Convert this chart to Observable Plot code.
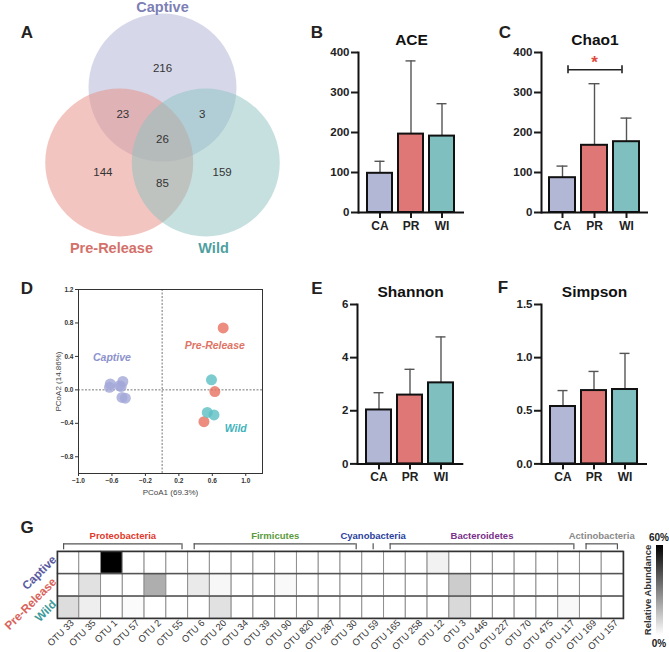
<!DOCTYPE html>
<html><head><meta charset="utf-8">
<script src="https://cdn.jsdelivr.net/npm/d3@7"></script>
<script src="https://cdn.jsdelivr.net/npm/@observablehq/plot@0.6"></script>
<style>
body{margin:0;background:#fff;}
#fig{position:relative;width:669px;height:652px;font-family:'Liberation Sans',Arial,Helvetica,sans-serif;overflow:hidden;background:#fff;}
.lbl{position:absolute;font-weight:bold;color:#222;transform:translate(-50%,-50%);line-height:1;white-space:nowrap;}
</style></head><body><div id="fig"></div><script>
// ---------------- DATA ----------------
// Venn (A)
const vennSets = ["Captive", "Pre-Release", "Wild"];
const vennRegionSets = [["Captive"], ["Pre-Release"], ["Wild"], ["Captive","Pre-Release"], ["Captive","Wild"], ["Pre-Release","Wild"], ["Captive","Pre-Release","Wild"]];
const vennRegionCounts = [216, 144, 159, 23, 3, 85, 26];
const vennColors = ["#aeb2d6", "#e88c82", "#8cc2bf"];
const vennLabelColors = ["#7c80b4", "#d4706a", "#4f9f9f"];

// Alpha diversity (B, C, E, F)
const groups = ["CA", "PR", "WI"];
const barColors = ["#b3b7d6", "#e07777", "#7fbfbf"];
const aceMean = [98, 196, 191];
const aceSD = [30, 183, 81];
const chao1Mean = [87, 168, 177];
const chao1SD = [29, 154, 59];
const shannonMean = [2.03, 2.59, 3.05];
const shannonSD = [0.65, 0.97, 1.73];
const simpsonMean = [0.54, 0.69, 0.70];
const simpsonSD = [0.15, 0.18, 0.34];
const richTicks = [0, 100, 200, 300, 400];
const shannonTicks = [0, 2, 4, 6];
const simpsonTicks = [0, 0.5, 1.0, 1.5];
const chao1Sig = {from: "CA", to: "WI", mid: "PR", y: 357, star: "*"};

// PCoA (D)
const pcoaGroups = ["Captive", "Pre-Release", "Wild"];
const pcoaColors = ["#a2a7d8", "#e8705f", "#5bbfc3"];
const pcoaTextColors = ["#8d92cc", "#e07366", "#3fb3bb"];
const pcoaCaptive = [[-0.62, 0.07], [-0.63, 0.03], [-0.47, 0.10], [-0.51, 0.05], [-0.49, 0.04], [-0.48, -0.09], [-0.44, -0.10]];
const pcoaPreRelease = [[0.73, 0.74], [0.63, -0.02], [0.50, -0.38]];
const pcoaWild = [[0.59, 0.12], [0.54, -0.27], [0.62, -0.30]];
const pcoaLabelXY = [[-0.60, 0.38], [0.63, 0.53], [0.88, -0.46]];
const pcoaXTicks = [-1.0, -0.6, -0.2, 0.2, 0.6, 1.0];
const pcoaYTicks = [-0.8, -0.4, 0.0, 0.4, 0.8, 1.2];

// Heatmap (G)
const otus = ["OTU 33","OTU 35","OTU 1","OTU 57","OTU 2","OTU 55","OTU 6","OTU 20","OTU 34","OTU 39","OTU 90","OTU 820","OTU 287","OTU 30","OTU 59","OTU 165","OTU 258","OTU 12","OTU 3","OTU 446","OTU 227","OTU 70","OTU 475","OTU 117","OTU 169","OTU 157"];
const heatGroups = ["Captive", "Pre-Release", "Wild"];
const heatGroupColors = ["#5b5ba0", "#d9645c", "#3f9b9b"];
const abundCaptive    = [0, 0, 60, 0, 0, 0,  0, 0, 0, 0, 0,   0, 0, 0,  0,  0, 0, 3, 0,  0, 0, 0, 0, 0,   0, 0];
const abundPreRelease = [0, 7, 0,  0, 19, 0, 5, 2, 0, 0, 1.5, 0, 0, 0,  0,  0, 0, 0, 12, 0, 0, 0, 0, 0,   0, 0];
const abundWild       = [8, 4, 0,  1, 0, 0,  0, 7, 0, 0, 0,   0, 0, 0,  0,  0, 0, 0, 9,  0, 0, 0, 0, 1.5, 0, 0];
const phylumNames = ["Proteobacteria", "Firmicutes", "Cyanobacteria", "Bacteroidetes", "Actinobacteria"];
const phylumFirst = ["OTU 33", "OTU 6", "OTU 59", "OTU 165", "OTU 169"];
const phylumLast  = ["OTU 55", "OTU 30", "OTU 59", "OTU 117", "OTU 157"];
const phylumColors = ["#e0392b", "#5a9a3a", "#2a3f9e", "#7a2f8a", "#8a8a8a"];
const legendMax = "60%", legendMin = "0%";

// ---------------- HELPERS ----------------
const FONT = "'Liberation Sans', Arial, Helvetica, sans-serif";
const fig = document.getElementById("fig");
function place(node, left, top) {
  node.style.position = "absolute";
  node.style.left = left + "px";
  node.style.top = top + "px";
  fig.appendChild(node);
}
function label(text, x, y, css) {
  const d = document.createElement("div");
  d.textContent = text; d.className = "lbl";
  d.style.left = x + "px"; d.style.top = y + "px";
  Object.assign(d.style, css || {});
  fig.appendChild(d);
  return d;
}
const baseStyle = {fontFamily: FONT, background: "transparent", overflow: "visible", color: "#1a1a1a"};

// ---------------- A: VENN ----------------
{
  const unit = 74;
  const ang = [-90, 150, 30];
  const dist = 0.675;
  const centers = vennSets.map((s, i) => ({set: s, x: dist * Math.cos(ang[i] * Math.PI / 180), y: dist * Math.sin(ang[i] * Math.PI / 180)}));
  const regions = vennRegionSets.map((sets, k) => {
    const mem = centers.filter(c => sets.includes(c.set));
    const sx = d3.sum(mem, c => c.x), sy = d3.sum(mem, c => c.y);
    const len = Math.hypot(sx, sy);
    const rd = [0.93, 0.62, 0][mem.length - 1];
    return {n: vennRegionCounts[k], x: len > 1e-6 ? sx / len * rd : 0, y: len > 1e-6 ? sy / len * rd : 0.03};
  });
  const p = Plot.plot({
    width: 300, height: 262, margin: 0,
    style: baseStyle,
    x: {domain: [-162 / unit, 138 / unit], range: [0, 300], axis: null},
    y: {domain: [-137 / unit, 125 / unit], range: [0, 262], axis: null},
    color: {domain: vennSets, range: vennColors},
    marks: [
      Plot.dot(centers, {x: "x", y: "y", r: unit, fill: "set", fillOpacity: 0.5, stroke: null}),
      Plot.text(regions, {x: "x", y: "y", text: d => String(d.n), fontSize: 11.5, fill: "#333"}),
      ...centers.map((c, i) => Plot.text([c], {
        x: d => d.y < 0 ? d.x : d.x * 1.18,
        y: d => d.y + (d.y < 0 ? -1.09 : 1.16),
        text: "set", fill: vennLabelColors[i], fontSize: 14.5, fontWeight: "bold"
      }))
    ]
  });
  place(p, 0, 0);
}

// ---------------- B, C, E, F: BARS ----------------
function barPanel({title, means, sds, max, ticks, fmt, x0, x1, yTop, y0, sig}) {
  const data = groups.map((g, i) => ({g, v: means[i], hi: means[i] + sds[i]}));
  const mL = 50, mR = 10, mT = 40, mB = 36;
  const marks = [
    Plot.ruleX(data, {x: "g", y1: "v", y2: "hi", stroke: "#555", strokeWidth: 1.4}),
    Plot.tickY(data, {x: "g", y: "hi", stroke: "#555", strokeWidth: 1.4, insetLeft: 7.5, insetRight: 7.5}),
    Plot.barY(data, {x: "g", y: "v", fill: "g", stroke: "#111", strokeWidth: 2}),
    Plot.axisY({ticks, tickFormat: fmt, tickSize: 7, tickPadding: 2, strokeWidth: 2, fontSize: 11.5, fontWeight: "bold", fill: "#222", label: null}),
    Plot.axisX({tickSize: 6, tickPadding: 3, strokeWidth: 2, fontSize: 12, fontWeight: "bold", fill: "#222", label: null}),
    Plot.frame({anchor: "left", strokeWidth: 2, stroke: "#111"}),
    Plot.ruleY([0], {strokeWidth: 2, stroke: "#111"}),
    Plot.text([title], {frameAnchor: "top", lineAnchor: "middle", dy: -12, text: d => d, fontSize: 15.5, fontWeight: "bold", fill: "#111"})
  ];
  if (sig) {
    const sd = [sig];
    marks.push(
      Plot.ruleY(sd, {x1: "from", x2: "to", y: "y", insetLeft: 19, insetRight: 17.5, stroke: "#222", strokeWidth: 1.6}),
      Plot.ruleX(sd, {x: "from", y1: d => d.y - 10, y2: d => d.y + 10, dx: 5.5, stroke: "#222", strokeWidth: 1.6}),
      Plot.ruleX(sd, {x: "to", y1: d => d.y - 10, y2: d => d.y + 10, dx: -4.5, stroke: "#222", strokeWidth: 1.6}),
      Plot.text(sd, {x: "mid", y: "y", text: "star", dy: -7, fontSize: 17, fontWeight: "bold", fill: "#e04a40"})
    );
  }
  const p = Plot.plot({
    width: (x1 - x0) + mL + mR, height: (y0 - yTop) + mT + mB,
    marginLeft: mL, marginRight: mR, marginTop: mT, marginBottom: mB,
    style: baseStyle,
    x: {domain: groups, paddingInner: 0.18, paddingOuter: 0.26, label: null, axis: null},
    y: {domain: [0, max], label: null, axis: null},
    color: {domain: groups, range: barColors},
    marks
  });
  place(p, x0 - mL, yTop - mT);
}
barPanel({title: "ACE", means: aceMean, sds: aceSD, max: 400, ticks: richTicks, fmt: d3.format("d"), x0: 358, x1: 464, yTop: 52.3, y0: 212.3});
barPanel({title: "Chao1", means: chao1Mean, sds: chao1SD, max: 400, ticks: richTicks, fmt: d3.format("d"), x0: 541, x1: 648, yTop: 52.3, y0: 212.3, sig: chao1Sig});
barPanel({title: "Shannon", means: shannonMean, sds: shannonSD, max: 6, ticks: shannonTicks, fmt: d3.format("d"), x0: 357, x1: 463.3, yTop: 304.3, y0: 463.7});
barPanel({title: "Simpson", means: simpsonMean, sds: simpsonSD, max: 1.5, ticks: simpsonTicks, fmt: d3.format(".1f"), x0: 540.7, x1: 646.7, yTop: 304.3, y0: 463.7});

// ---------------- D: PCoA ----------------
{
  const pts = [
    ...pcoaCaptive.map(([x, y]) => ({g: "Captive", x, y})),
    ...pcoaPreRelease.map(([x, y]) => ({g: "Pre-Release", x, y})),
    ...pcoaWild.map(([x, y]) => ({g: "Wild", x, y}))
  ];
  const p = Plot.plot({
    width: 290, height: 243, marginLeft: 78, marginRight: 28, marginTop: 19, marginBottom: 40,
    style: baseStyle,
    x: {domain: [-1, 1.2], label: null, axis: null},
    y: {domain: [-1, 1.2], label: null, axis: null},
    color: {domain: pcoaGroups, range: pcoaColors},
    marks: [
      Plot.ruleX([0], {stroke: "#777", strokeDasharray: "2,1.5", strokeWidth: 1}),
      Plot.ruleY([0], {stroke: "#777", strokeDasharray: "2,1.5", strokeWidth: 1}),
      Plot.frame({stroke: "#333", strokeWidth: 1}),
      Plot.dot(pts, {x: "x", y: "y", r: 5.5, fill: "g", fillOpacity: 0.8, stroke: null}),
      ...pcoaGroups.map((g, i) => Plot.text([{g, x: pcoaLabelXY[i][0], y: pcoaLabelXY[i][1]}], {x: "x", y: "y", text: "g", fill: pcoaTextColors[i], fontStyle: "italic", fontWeight: "bold", fontSize: 10.5})),
      Plot.axisX({ticks: pcoaXTicks, tickFormat: d3.format(".1f"), tickSize: 3, tickPadding: 2, fontSize: 6.5, fontWeight: "bold", fill: "#333", stroke: "#333", label: null}),
      Plot.axisY({ticks: pcoaYTicks, tickFormat: d3.format(".1f"), tickSize: 3, tickPadding: 2, fontSize: 6.5, fontWeight: "bold", fill: "#333", stroke: "#333", label: null}),
      Plot.text(["PCoA1 (69.3%)"], {frameAnchor: "bottom", lineAnchor: "middle", dy: 19, text: d => d, fontSize: 8, fill: "#444"}),
      Plot.text(["PCoA2 (14.86%)"], {frameAnchor: "left", textAnchor: "middle", lineAnchor: "middle", dx: -20, rotate: -90, text: d => d, fontSize: 8, fill: "#444"})
    ]
  });
  place(p, 0, 270);
}

// ---------------- G: HEATMAP ----------------
{
  const rows = [abundCaptive, abundPreRelease, abundWild];
  const cells = [];
  rows.forEach((vals, r) => vals.forEach((v, i) => cells.push({i, r, v})));
  const bw = 0.28; // bracket inset in columns
  const phyla = phylumNames.map((name, k) => {
    const a = otus.indexOf(phylumFirst[k]), b = otus.indexOf(phylumLast[k]);
    const single = a === b;
    const x1 = single ? a + 0.5 : a + bw, x2 = single ? a + 0.5 : b + 1 - bw;
    return {name, x1, x2, mid: (x1 + x2) / 2, single, color: phylumColors[k]};
  });
  const colLabels = otus.map((o, i) => ({o, i}));
  const p = Plot.plot({
    width: 669, height: 132, marginLeft: 57, marginRight: 46, marginTop: 31, marginBottom: 34,
    style: baseStyle,
    x: {domain: [0, otus.length], axis: null},
    y: {domain: [0, heatGroups.length], reverse: true, axis: null},
    color: {type: "linear", domain: [0, 60], range: ["#ffffff", "#000000"]},
    marks: [
      Plot.rect(cells, {x1: "i", x2: d => d.i + 1, y1: "r", y2: d => d.r + 1, fill: "v", stroke: "#8f8f8f", strokeWidth: 1, inset: 0}),
      Plot.ruleY([1, 2], {stroke: "#333", strokeWidth: 1}),
      Plot.frame({stroke: "#333", strokeWidth: 1.5}),
      Plot.ruleY(phyla.filter(d => !d.single), {x1: "x1", x2: "x2", y: -0.343, stroke: "#555", strokeWidth: 1.2}),
      Plot.ruleX(phyla, {x: "x1", y1: -0.343, y2: -0.076, stroke: "#555", strokeWidth: 1.2}),
      Plot.ruleX(phyla.filter(d => !d.single), {x: "x2", y1: -0.343, y2: -0.076, stroke: "#555", strokeWidth: 1.2}),
      ...phyla.map(d => Plot.text([d], {x: "mid", y: -0.713, text: "name", fill: d.color, fontSize: 9.5, fontWeight: "bold"})),
      ...heatGroups.map((g, r) => Plot.text([g], {x: 0, y: r + 0.5, dx: -3, dy: -5, rotate: -45, textAnchor: "end", text: d => d, fill: heatGroupColors[r], fontSize: 11.8, fontWeight: "bold"})),
      Plot.text(colLabels, {x: d => d.i + 0.5, y: heatGroups.length, dx: 4, dy: 3, rotate: -45, textAnchor: "end", text: "o", fontSize: 9.4, fill: "#333"})
    ]
  });
  place(p, 0, 520);

  // colour legend
  const grad = document.createElement("div");
  grad.style.cssText = "position:absolute;left:656px;top:545px;width:7px;height:90px;background:linear-gradient(to bottom,#000,#fff);";
  fig.appendChild(grad);
  label(legendMax, 659, 538, {fontSize: "10px"});
  label(legendMin, 659, 644, {fontSize: "10px"});
  label("Relative Abundance", 648, 590, {fontSize: "9.5px", transform: "translate(-50%,-50%) rotate(-90deg)", color: "#333"});
}

// ---------------- PANEL LETTERS ----------------
[["A", 27, 32], ["B", 317, 32], ["C", 505, 32], ["D", 27, 288], ["E", 317, 288], ["F", 503, 287], ["G", 27, 527]]
  .forEach(([t, x, y]) => label(t, x, y, {fontSize: "17px"}));
</script></body></html>
